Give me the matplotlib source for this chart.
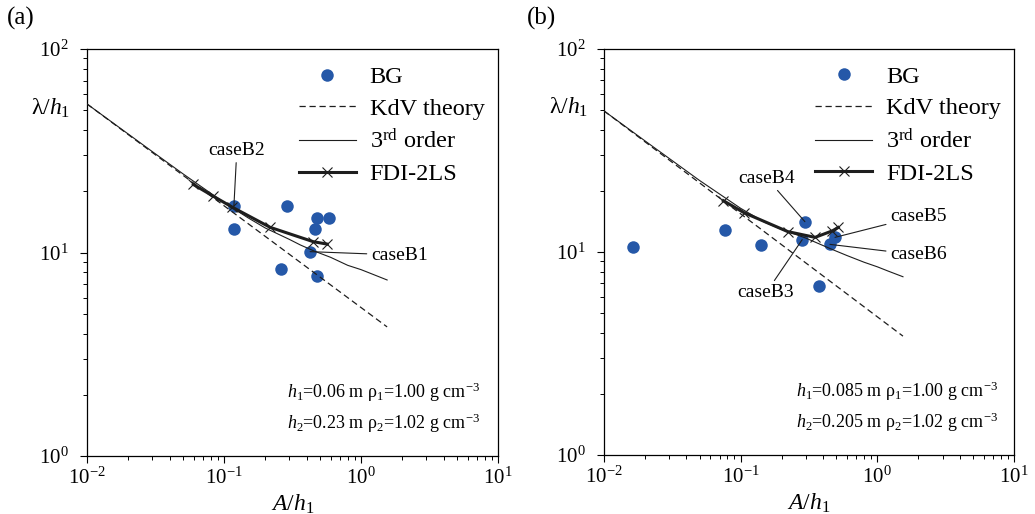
import matplotlib
matplotlib.use("Agg")
import matplotlib.pyplot as plt
from matplotlib.ticker import LogLocator, NullFormatter, LogFormatterSciNotation

plt.rcParams['font.family'] = 'Liberation Serif'
plt.rcParams['mathtext.fontset'] = 'custom'
plt.rcParams['mathtext.rm'] = 'Liberation Serif'
plt.rcParams['mathtext.it'] = 'Liberation Serif:italic'
plt.rcParams['mathtext.bf'] = 'Liberation Serif:bold'

# ─── Panel (a): h1=0.06 m, h2=0.23 m ──────────────────────────────────────────
bg_a_x    = [0.118, 0.119, 0.286, 0.474, 0.583, 0.458, 0.425, 0.259, 0.474]
bg_a_y    = [16.9, 13.0, 16.9, 14.7, 14.7, 13.0, 10.1, 8.27, 7.69]
kdv_a_x   = [0.01, 1.55]
kdv_a_y   = [53.7, 4.31]
third_a_x = [0.01, 0.02, 0.03, 0.05, 0.1, 0.15, 0.2, 0.3, 0.36, 0.45, 0.6, 0.8, 1.0, 1.2, 1.55]
third_a_y = [53.7, 38.2, 31.3, 24.4, 17.6, 14.8, 13.2, 11.6, 10.9, 10.2, 9.47, 8.65, 8.24, 7.85, 7.33]
fdi_a_x   = [0.0597, 0.0836, 0.115, 0.217, 0.449, 0.567]
fdi_a_y   = [21.6, 18.9, 16.7, 13.3, 11.3, 11.0]

# ─── Panel (b): h1=0.085 m, h2=0.205 m ────────────────────────────────────────
bg_b_x    = [0.0164, 0.0772, 0.141, 0.295, 0.282, 0.490, 0.450, 0.374]
bg_b_y    = [10.6, 12.8, 10.8, 14.1, 11.5, 11.8, 10.9, 6.8]
kdv_b_x   = [0.01, 1.54]
kdv_b_y   = [49.5, 3.85]
third_b_x = [0.01, 0.02, 0.05, 0.1, 0.15, 0.2, 0.3, 0.45, 0.6, 0.8, 1.0, 1.2, 1.54]
third_b_y = [49.5, 35.2, 22.5, 16.4, 14.0, 12.9, 11.7, 10.4, 9.6, 8.9, 8.45, 8.05, 7.55]
fdi_b_x   = [0.0746, 0.106, 0.221, 0.350, 0.468, 0.518]
fdi_b_y   = [17.9, 15.6, 12.6, 11.8, 12.7, 13.2]

# case labels: (name, index into BG arrays, text x, text y, alignment)
cases_a = [("caseB2", 0, 0.124, 31.9, "center"),
           ("caseB1", 6, 1.18, 9.72, "left")]
cases_b = [("caseB4", 3, 0.155, 23.1, "center"),
           ("caseB3", 4, 0.153, 6.28, "center"),
           ("caseB5", 5, 1.24, 15.0, "left"),
           ("caseB6", 6, 1.24, 9.67, "left")]

info_a = [r"$h_1$=0.06 m $\mathrm{\rho_1}$=1.00 g cm$^{-3}$",
          r"$h_2$=0.23 m $\mathrm{\rho_2}$=1.02 g cm$^{-3}$"]
info_b = [r"$h_1$=0.085 m $\mathrm{\rho_1}$=1.00 g cm$^{-3}$",
          r"$h_2$=0.205 m $\mathrm{\rho_2}$=1.02 g cm$^{-3}$"]

BLUE = "#2558a8"
DARK = "#1e1e1e"


def draw_panel(ax, bg_x, bg_y, kdv_x, kdv_y, th_x, th_y, fdi_x, fdi_y, cases, info, info_x):
    ax.plot(bg_x, bg_y, "o", color=BLUE, ms=9, mec="none", label="BG", zorder=2)
    ax.plot(kdv_x, kdv_y, color=DARK, lw=0.9, dashes=(5, 3), label="KdV theory", zorder=3)
    ax.plot(th_x, th_y, color=DARK, lw=0.8, label=r"3$^{\mathrm{rd}}$ order", zorder=3)
    ax.plot(fdi_x, fdi_y, color=DARK, lw=2.2, marker="x", ms=7, mew=0.8,
            label="FDI-2LS", zorder=4)

    for name, i, tx, ty, ha in cases:
        ax.annotate(name, xy=(bg_x[i], bg_y[i]), xytext=(tx, ty),
                    ha=ha, va="center", fontsize=14,
                    arrowprops=dict(arrowstyle="-", lw=0.8, color=DARK,
                                    shrinkA=1, shrinkB=0), zorder=5)

    ax.set_xscale("log")
    ax.set_yscale("log")
    ax.set_xlim(1e-2, 1e1)
    ax.set_ylim(1e0, 1e2)
    ax.xaxis.set_major_locator(LogLocator(base=10, numticks=10))
    ax.yaxis.set_major_locator(LogLocator(base=10, numticks=10))
    ax.xaxis.set_minor_locator(LogLocator(base=10, subs=range(2, 10), numticks=10))
    ax.yaxis.set_minor_locator(LogLocator(base=10, subs=range(2, 10), numticks=10))
    ax.xaxis.set_major_formatter(LogFormatterSciNotation())
    ax.yaxis.set_major_formatter(LogFormatterSciNotation())
    ax.xaxis.set_minor_formatter(NullFormatter())
    ax.yaxis.set_minor_formatter(NullFormatter())
    ax.tick_params(which="major", length=5, width=0.8, labelsize=15, pad=3)
    ax.tick_params(which="minor", length=3, width=0.7)
    ax.tick_params(axis="y", which="major", pad=8)
    for s in ax.spines.values():
        s.set_linewidth(0.9)

    ax.set_xlabel(r"$A/h_1$", fontsize=17, labelpad=3)
    ax.text(-0.04, 0.855, r"$\mathrm{\lambda}/h_1$", transform=ax.transAxes,
            ha="right", va="center", fontsize=17)

    ax.legend(loc="upper left", bbox_to_anchor=(0.515, 0.958), frameon=False,
              fontsize=17.5, handlelength=2.35, handletextpad=0.57,
              labelspacing=0.39, borderpad=0, borderaxespad=0)

    ax.text(info_x, 0.157, info[0], transform=ax.transAxes, ha="right", va="center", fontsize=13)
    ax.text(info_x, 0.081, info[1], transform=ax.transAxes, ha="right", va="center", fontsize=13)


fig = plt.figure(figsize=(10.35, 5.14), dpi=100)
ax1 = fig.add_axes([0.0841, 0.1128, 0.3971, 0.7918])
ax2 = fig.add_axes([0.5836, 0.1148, 0.3961, 0.7900])

draw_panel(ax1, bg_a_x, bg_a_y, kdv_a_x, kdv_a_y, third_a_x, third_a_y,
           fdi_a_x, fdi_a_y, cases_a, info_a, 0.956)
draw_panel(ax2, bg_b_x, bg_b_y, kdv_b_x, kdv_b_y, third_b_x, third_b_y,
           fdi_b_x, fdi_b_y, cases_b, info_b, 0.961)

fig.text(0.007, 0.965, "(a)", fontsize=18, ha="left", va="center")
fig.text(0.509, 0.965, "(b)", fontsize=18, ha="left", va="center")

fig.savefig("out.png", dpi=100)
